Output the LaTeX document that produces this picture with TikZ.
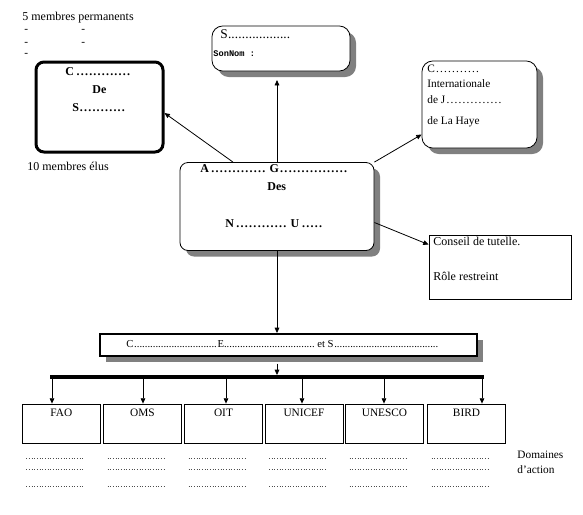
\documentclass[tikz,border=0pt]{standalone}
\usepackage{fontspec}
\setmainfont{Liberation Serif}
\newfontfamily\smallmono{Liberation Mono}
\usetikzlibrary{arrows.meta, shadows}

% a run of dots of a given length
\newcommand\dotrun[2][2pt]{\leavevmode\cleaders\hbox to #1{\hss.\hss}\hskip#2\relax\kern0pt\relax}

\begin{document}
\begin{tikzpicture} [%
    x = 0.75pt,
    y = -0.75pt,
    line width = 0.6pt,
    >= { Triangle[length=4pt, width=3.5pt] },
    every node/.style = {%
      font = \fontsize{8.5}{10}\selectfont,
      inner sep = 0pt },
    organ/.style = {%
      draw,
      fill = white,
      rounded corners = 7pt,
      drop shadow = {shadow xshift=4.5pt, shadow yshift=-4.5pt,
                     fill=gray, opacity=1} },
    agency/.style = {%
      draw,
      minimum width = 58.5pt,
      minimum height = 29.25pt },
    txt/.style = { anchor = base west },
    heavy/.style = { txt, font = \fontsize{9}{10}\selectfont\bfseries },
    fieldrow/.style = {%
      black!70,
      line width = 0.5pt,
      dash pattern = on 0.5pt off 1.5pt }
  ]

  \useasboundingbox (0,0) rectangle (583,515);

  % Conseil de securite
  \node[draw, line width=2.25pt, rounded corners=6pt,
        minimum width=95.25pt, minimum height=67.5pt] (CS) at (99.5,107) {};
  \node[heavy] (CS-1) at (65,75) {C\dotrun[3.15pt]{44pt}};
  \node[heavy] (CS-2) at (92,93) {De};
  \node[heavy] (CS-3) at (72,111) {S\dotrun[3.15pt]{35pt}};
  \node[txt, font=\fontsize{9}{10}\selectfont] (perm) at (22,20) {5 membres permanents};
  \node[txt] (d1) at (24,32) {-};
  \node[txt] (d2) at (24,45) {-};
  \node[txt] (d3) at (24,56) {-};
  \node[txt] (d4) at (81,32) {-};
  \node[txt] (d5) at (81,45) {-};
  \node[txt, font=\fontsize{9}{10}\selectfont] (elus) at (27,170) {10 membres élus};

  % Secretariat
  \node[organ, rounded corners=8pt,
        minimum width=103.5pt, minimum height=33.75pt] (SG) at (281,48.5) {};
  \node[txt, font=\fontsize{10}{11}\selectfont] (SG-1) at (220,38) {S\dotrun[2.6pt]{47pt}};
  \node[txt, font=\smallmono\fontsize{6.5}{7}\selectfont\bfseries] (SG-2) at (213,56) {SonNom :};

  % Cour internationale de justice
  \node[organ, rounded corners=8pt,
        minimum width=86.25pt, minimum height=65.25pt] (CIJ) at (479.5,104.5) {};
  \node[txt] (CIJ-1) at (427,72) {C\dotrun[3pt]{34pt}};
  \node[txt] (CIJ-2) at (427,87) {Internationale};
  \node[txt] (CIJ-3) at (427,103) {de J\dotrun[3pt]{43pt}};
  \node[txt] (CIJ-4) at (427,124) {de La Haye};

  % Assemblee generale
  \node[organ, rounded corners=6pt,
        minimum width=145.5pt, minimum height=66pt] (AG) at (277,206.5) {};
  \node[heavy] (AG-1) at (200,172) {A\dotrun[3.2pt]{44pt}\,G\dotrun[3.2pt]{52pt}};
  \node[heavy] (AG-2) at (267,190) {Des};
  \node[heavy] (AG-3) at (225,227) {N\dotrun[3.2pt]{41pt}\,U\dotrun[3.2pt]{19pt}};

  % Conseil de tutelle
  \node[draw, minimum width=106.5pt, minimum height=48pt] (CT) at (500,267) {};
  \node[txt, font=\fontsize{9}{10}\selectfont] (CT-1) at (433,245) {Conseil de tutelle.};
  \node[txt, font=\fontsize{9}{10}\selectfont] (CT-2) at (433,280) {Rôle restreint};

  % Conseil economique et social
  \node[organ, rounded corners=0pt, line width=1.5pt,
        minimum width=282.75pt, minimum height=16.5pt] (CES) at (288.5,345) {};
  \node[txt, font=\fontsize{8}{9}\selectfont] (CES-1) at (126,347)
    {C\dotrun{63pt}E\dotrun{68pt} et S\dotrun{79pt}};

  \path
  (AG.north) edge [->, shorten >=6.5pt] (AG.north |- SG.south)
  ([xshift=-33pt]AG.north) edge [->] ([yshift=-4.5pt]CS.east)
  (AG.north east) edge [->] ([yshift=-22.5pt]CIJ.west)
  ([yshift=-12pt]AG.east) edge [->] ([yshift=-7.5pt]CT.north west)
  (AG.south) edge [->] (AG.south |- CES.north);

  % institutions specialisees
  \coordinate (bar-l) at (50,377);
  \coordinate (bar-r) at (484,377);
  \draw[line width=3pt] (bar-l) -- (bar-r);
  \draw[->, shorten >=1.5pt] ([yshift=-5pt]CES.south -| 277,0) -- (277,0 |- bar-l);

  \foreach \name/\cx/\ax in {FAO/61.3/52, OMS/142.5/143, OIT/223.5/226,
                             UNICEF/304/302, UNESCO/384.5/384, BIRD/466.5/482} {
    \node[agency] (\name) at (\cx,423.5) {};
    \node[anchor=base] (\name-lbl) at (\cx,416) {\name};
    \draw[->] (\ax,0 |- bar-l) -- (\ax,0 |- \name.north);
    \foreach \y in {458,469,486}
      \draw[fieldrow] (\cx-35,\y) -- (\cx+22,\y);
  }

  \node[txt] (dom-1) at (517,458) {Domaines};
  \node[txt] (dom-2) at (517,473) {d'action};

\end{tikzpicture}
\end{document}
